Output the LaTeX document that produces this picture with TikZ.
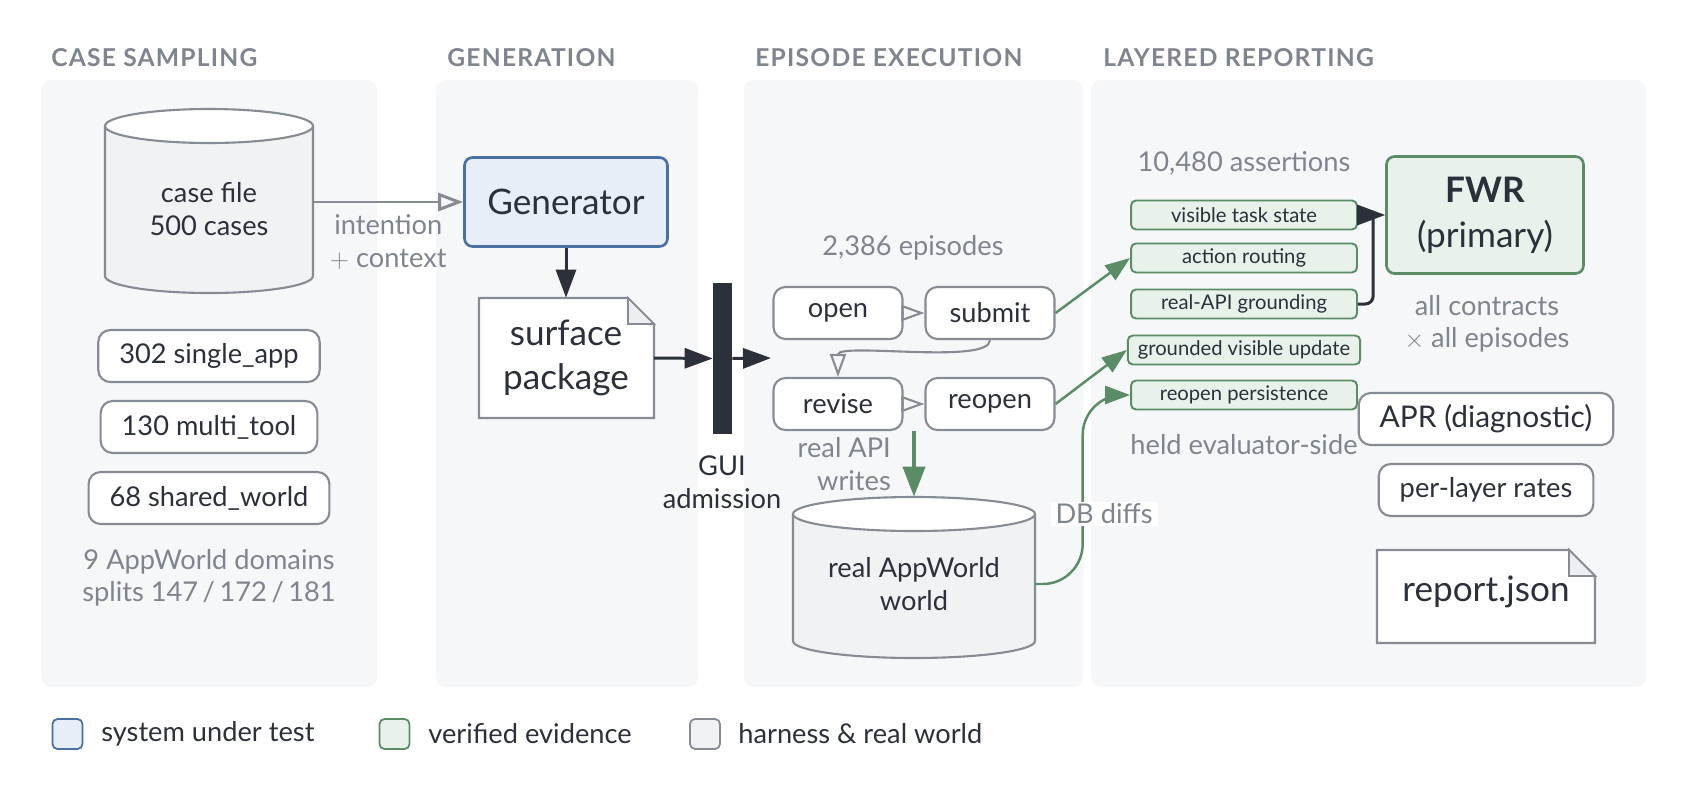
\documentclass[tikz,border=0pt]{standalone}
\usepackage{fontspec}
\setmainfont{Lato}
\newfontfamily\phasefont{Lato}[LetterSpace=5]
\usetikzlibrary{arrows.meta,calc}
\definecolor{ink}{HTML}{2B303B}
\definecolor{muted}{HTML}{7F858E}
\definecolor{edge}{HTML}{868B94}
\definecolor{panelbg}{HTML}{F6F7F9}
\definecolor{harnessbg}{HTML}{F1F2F4}
\definecolor{foldbg}{HTML}{ECEEF1}
\definecolor{sutfill}{HTML}{E7EEF7}
\definecolor{sutline}{HTML}{4A6FA5}
\definecolor{evfill}{HTML}{E8F2EA}
\definecolor{evline}{HTML}{5A8C65}

\begin{document}
\begin{tikzpicture}[x=0.02cm, y=-0.02cm, font=\fontsize{15.5}{18.5}\selectfont, text=ink, every node/.style={align=center}]
\tikzset{
  panel/.style={fill=panelbg, rounded corners=0.2cm},
  phasetitle/.style={font=\phasefont\fontsize{14}{16}\selectfont\bfseries, text=muted, anchor=west, inner sep=0pt},
  note/.style={text=muted},
  bigtext/.style={font=\fontsize{20}{25.5}\selectfont},
  pill/.style={draw=edge, line width=1.2pt, fill=white, rounded corners=0.24cm, minimum height=1.04cm, inner xsep=0.42cm},
  epbox/.style={pill, minimum width=2.58cm, inner xsep=0.1cm},
  sutbox/.style={bigtext, draw=sutline, fill=sutfill, line width=1.5pt, rounded corners=0.16cm, minimum width=4.06cm, minimum height=1.78cm},
  evbox/.style={font=\fontsize{11.5}{13}\selectfont, draw=evline, fill=evfill, line width=1.1pt, rounded corners=0.1cm, minimum width=4.52cm, minimum height=0.58cm, inner xsep=0.2cm, inner ysep=0.06cm},
  fwrbox/.style={bigtext, draw=evline, fill=evfill, line width=1.5pt, rounded corners=0.16cm, minimum width=3.94cm, minimum height=2.34cm},
  docshape/.style={draw=edge, line width=1.2pt, fill=white},
  docfold/.style={draw=edge, line width=1pt, fill=foldbg},
  cylbody/.style={draw=edge, line width=1.2pt, fill=harnessbg},
  cyltop/.style={draw=edge, line width=1.2pt, fill=white},
  gatebar/.style={fill=ink, minimum width=0.38cm, minimum height=3.02cm, inner sep=0pt},
  dbtag/.style={note, fill=white, inner xsep=0.1cm, inner ysep=0.04cm},
  legsq/.style={line width=1pt, rounded corners=0.1cm, minimum width=0.6cm, minimum height=0.6cm, inner sep=0pt},
  legtext/.style={anchor=west, inner xsep=0pt},
  darkarrow/.style={draw=ink, line width=1.7pt, -{Triangle[length=0.56cm, width=0.4cm]}},
  greyarrow/.style={draw=edge, line width=1.7pt, -{Triangle[open, length=0.5cm, width=0.36cm]}},
  flowarrow/.style={draw=edge, line width=1.2pt, -{Triangle[open, length=0.46cm, width=0.32cm]}},
  evarrow/.style={draw=evline, line width=1.4pt, -{Triangle[length=0.5cm, width=0.36cm]}},
  evthick/.style={draw=evline, line width=2.3pt, -{Triangle[length=0.6cm, width=0.44cm]}}
}
\path[use as bounding box, fill=white] (0,0) rectangle (1700,795);

\path[panel] (41,80) rectangle (377,687);
\path[panel] (436,80) rectangle (698,687);
\path[panel] (744,80) rectangle (1083,687);
\path[panel] (1091,80) rectangle (1646,687);
\node[phasetitle] (tsampling) at (51,58) {CASE SAMPLING};
\node[phasetitle] (tgeneration) at (447,58) {GENERATION};
\node[phasetitle] (texecution) at (755,58) {EPISODE EXECUTION};
\node[phasetitle] (treporting) at (1103,58) {LAYERED REPORTING};

\draw[cylbody] (105,126) -- (105,276) arc[start angle=180, end angle=0, x radius=104, y radius=17] -- (313,126);
\draw[cyltop] (209,126) ellipse[x radius=104, y radius=17];
\node (casefile) at (209,209) [minimum width=4.16cm, minimum height=4cm] {case file\\500 cases};
\node[pill] (single) at (209,356) {302 single\_app};
\node[pill] (multi) at (209,427) {130 multi\_tool};
\node[pill] (shared) at (209,498) {68 shared\_world};
\node[note] (domains) at (209,578) {9 AppWorld domains\\splits 147\,/\,172\,/\,181};

\node[sutbox] (gen) at (566,202) {Generator};
\draw[greyarrow] (casefile.east |- gen.west) -- node[note, below=3pt] {intention\\$+$ context} (gen.west);
\path[docshape] (479,298) -- (628,298) -- (654,324) -- (654,418) -- (479,418) -- cycle;
\path[docfold] (628,298) -- (628,324) -- (654,324) -- cycle;
\node[bigtext] (pkg) at (566,358) [minimum width=3.5cm, minimum height=2.4cm] {surface\\package};
\draw[darkarrow] (gen.south) -- (pkg.north);
\node[gatebar] (gate) at (722.5,358.5) {};
\coordinate (entry) at (771,358);
\draw[darkarrow] (pkg.east) -- (gate.west);
\draw[darkarrow] (gate.east) -- (entry);
\node (gatelbl) at (722,482) {GUI\\admission};

\node[note] (eplbl) at (913,248) {2,386 episodes};
\node[epbox] (open) at (838,313) {open};
\node[epbox] (submit) at (990,313) {submit};
\node[epbox] (revise) at (838,404) {revise};
\node[epbox] (reopen) at (990,404) {reopen};
\draw[flowarrow] (open.east) -- (submit.west);
\draw[flowarrow] (submit.south) .. controls +(0,25) and +(0,-35) .. (revise.north);
\draw[flowarrow] (revise.east) -- (reopen.west);
\draw[cylbody] (793,514) -- (793,641) arc[start angle=180, end angle=0, x radius=121, y radius=17] -- (1035,514);
\draw[cyltop] (914,514) ellipse[x radius=121, y radius=17];
\node (world) at (914,584) [minimum width=4.84cm, minimum height=3.48cm] {real AppWorld\\world};
\draw[evthick] ($(revise.south)!0.5!(reopen.south)$) -- (world.north);
\node[note, anchor=east, align=right] (apilbl) at (897,464) {real API\\writes};

\node[note] (assertlbl) at (1244,163) {10,480 assertions};
\node[evbox] (vts) at (1244,215) {visible task state};
\node[evbox] (routing) at (1244,258) {action routing};
\node[evbox] (grounding) at (1244,304) {real-API grounding};
\node[evbox] (gvu) at (1244,350) {grounded visible update};
\node[evbox] (persist) at (1244,395) {reopen persistence};
\draw[evarrow] (submit.east) -- (routing.west);
\draw[evarrow] (reopen.east) -- (gvu.west);
\draw[evarrow, rounded corners=0.8cm] (world.east) -| ($(world.east)!0.5!(persist.west)$) |- (persist.west);
\node[dbtag] (dblbl) at (1104,514) {DB diffs};

\node[fwrbox] (fwr) at (1485,215) {\textbf{FWR}\\(primary)};
\draw[darkarrow] (vts.east) -- (fwr.west);
\draw[draw=ink, line width=1.7pt, rounded corners=0.16cm] (grounding.east) -| ([xshift=-0.24cm]fwr.west);
\node[note] (fwrnote) at (1487,324) {all contracts\\$\times$ all episodes};
\node[note] (heldlbl) at (1244,445) {held evaluator-side};
\node[pill, font=\fontsize{17}{20}\selectfont] (apr) at (1486,419) {APR (diagnostic)};
\node[pill] (rates) at (1486,490) {per-layer rates};
\path[docshape] (1377,550) -- (1569,550) -- (1595,576) -- (1595,643) -- (1377,643) -- cycle;
\path[docfold] (1569,550) -- (1569,576) -- (1595,576) -- cycle;
\node[bigtext] (report) at (1486,592) {report.json};

\node[legsq, fill=sutfill, draw=sutline] (legsut) at (67.5,734) {};
\node[legtext] (legsuttxt) at (101,734) {system under test};
\node[legsq, fill=evfill, draw=evline] (legev) at (394.5,734) {};
\node[legtext] (legevtxt) at (428,734) {verified evidence};
\node[legsq, fill=harnessbg, draw=edge] (legharness) at (705,734) {};
\node[legtext] (legharnesstxt) at (738,734) {harness \& real world};
\end{tikzpicture}
\end{document}
